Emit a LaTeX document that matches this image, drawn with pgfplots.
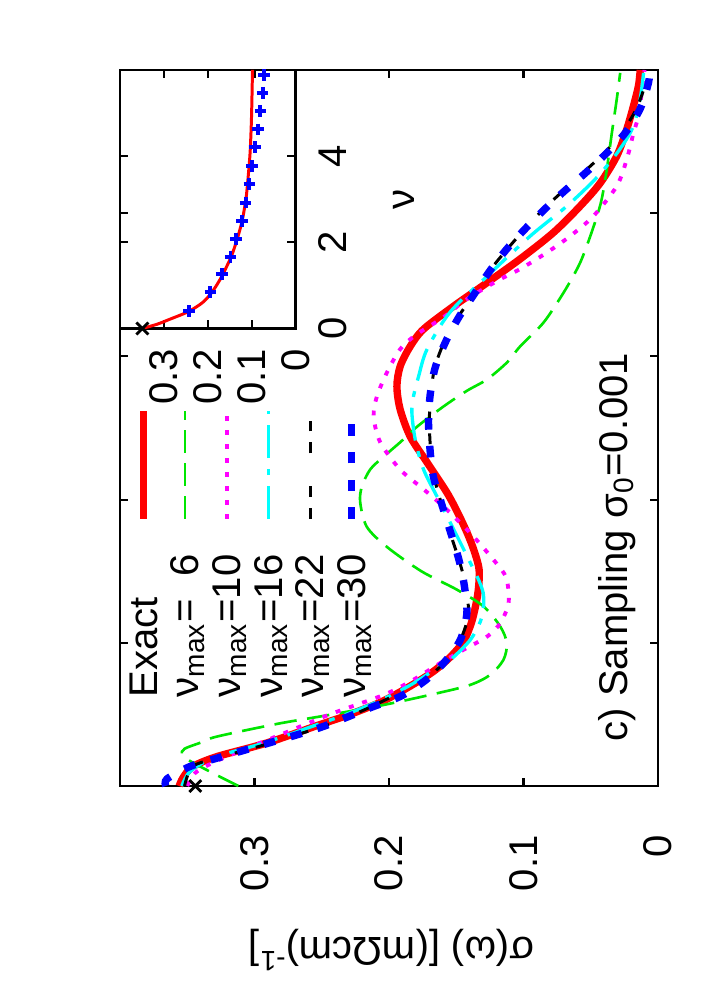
\documentclass[border=0pt]{standalone}
\usepackage{fontspec}
\setmainfont{Liberation Sans}
\usepackage{pgfplots}
\usepackage{pgfplotstable}
\pgfplotsset{compat=1.18}

\definecolor{gpred}{RGB}{255,0,0}
\definecolor{gpgreen}{RGB}{0,230,0}
\definecolor{gpmag}{RGB}{255,0,255}
\definecolor{gpcyan}{RGB}{0,255,255}
\definecolor{gpblue}{RGB}{0,0,255}
\newcommand{\gpfont}{\fontsize{11.4}{13.7}\selectfont}

\tikzset{
  lexact/.style={gpred, line width=2.1pt, line cap=butt},
  lsix/.style={gpgreen, line width=0.75pt, dash pattern=on 6.4pt off 3pt},
  lten/.style={gpmag, line width=1.1pt, dash pattern=on 1.4pt off 2.6pt},
  lsixteen/.style={gpcyan, line width=0.95pt, dash pattern=on 9.4pt off 3.1pt on 1.7pt off 3.1pt},
  ltwentytwo/.style={black, line width=0.85pt, dash pattern=on 3.1pt off 3.1pt on 3.1pt off 9.4pt},
  lthirty/.style={gpblue, line width=2.1pt, dash pattern=on 3.3pt off 4.6pt},
}

% conductivity curves: w = omega, s = sigma
\pgfplotstableread{
w s
0.00 0.356
0.06 0.353
0.135 0.346
0.205 0.328
0.30 0.291
0.42 0.254
0.50 0.229
0.595 0.204
0.71 0.182
0.80 0.167
0.90 0.1545
1.01 0.1446
1.15 0.1384
1.34 0.1340
1.51 0.1330
1.65 0.1370
1.77 0.1420
1.91 0.1490
2.05 0.1570
2.26 0.1717
2.44 0.1842
2.63 0.1917
2.79 0.1941
2.93 0.1917
3.07 0.1842
3.19 0.1743
3.35 0.1520
3.515 0.1270
3.68 0.1025
3.865 0.0777
4.05 0.0578
4.21 0.0430
4.40 0.0306
4.59 0.0231
4.75 0.0182
4.89 0.0145
5.00 0.0132
}\exact

\pgfplotstableread{
w s
0.00 0.312
0.09 0.331
0.175 0.348
0.22 0.354
0.26 0.352
0.303 0.340
0.345 0.328
0.434 0.283
0.497 0.244
0.566 0.204
0.648 0.164
0.706 0.1396
0.776 0.1248
0.881 0.1149
0.998 0.1124
1.114 0.1173
1.254 0.1297
1.371 0.1495
1.50 0.176
1.67 0.2016
1.81 0.2165
1.98 0.2214
2.09 0.2202
2.21 0.214
2.30 0.204
2.40 0.1917
2.51 0.179
2.65 0.1595
2.76 0.142
2.84 0.127
2.96 0.112
3.07 0.1025
3.235 0.0852
3.445 0.0702
3.63 0.0591
3.77 0.053
3.96 0.046
4.10 0.0418
4.31 0.038
4.56 0.0343
4.80 0.0306
4.98 0.0281
}\nusix

\pgfplotstableread{
w s
0.00 0.350
0.10 0.343
0.20 0.322
0.357 0.281
0.50 0.244
0.636 0.204
0.741 0.182
0.858 0.162
0.951 0.1446
1.044 0.127
1.137 0.1173
1.277 0.1111
1.44 0.1124
1.53 0.118
1.74 0.137
1.93 0.157
2.07 0.174
2.21 0.1917
2.40 0.2065
2.58 0.2114
2.72 0.209
2.886 0.2016
3.05 0.1917
3.15 0.180
3.27 0.160
3.40 0.142
3.53 0.119
3.61 0.1025
3.725 0.0826
3.84 0.0653
3.98 0.048
4.19 0.0306
4.38 0.0231
4.56 0.0182
4.68 0.0145
4.85 0.012
5.00 0.010
}\nuten

\pgfplotstableread{
w s
0.00 0.354
0.10 0.348
0.20 0.330
0.30 0.293
0.42 0.256
0.50 0.232
0.60 0.206
0.70 0.185
0.80 0.168
0.88 0.1545
1.02 0.1396
1.15 0.1320
1.254 0.1297
1.35 0.1300
1.44 0.1334
1.53 0.138
1.70 0.147
1.98 0.162
2.21 0.1743
2.42 0.1805
2.61 0.183
2.72 0.1818
2.86 0.178
3.05 0.1717
3.31 0.1545
3.56 0.127
3.84 0.095
4.05 0.0677
4.25 0.0454
4.45 0.0281
4.61 0.0182
4.80 0.0132
4.98 0.0107
}\nusixteen

\pgfplotstableread{
w s
0.00 0.352
0.136 0.346
0.20 0.326
0.30 0.288
0.42 0.248
0.50 0.226
0.60 0.203
0.73 0.176
0.86 0.159
1.02 0.147
1.20 0.141
1.40 0.143
1.58 0.148
1.78 0.155
1.97 0.161
2.16 0.1665
2.34 0.169
2.54 0.170
2.73 0.169
2.92 0.166
3.10 0.159
3.27 0.149
3.43 0.137
3.60 0.125
3.75 0.112
3.89 0.099
4.03 0.085
4.16 0.070
4.28 0.056
4.42 0.040
4.56 0.027
4.73 0.016
4.91 0.009
5.00 0.007
}\nutwentytwo

\pgfplotstableread{
w s
0.00 0.366
0.05 0.365
0.136 0.348
0.194 0.328
0.247 0.3085
0.303 0.2883
0.357 0.2685
0.415 0.249
0.485 0.230
0.555 0.2115
0.625 0.1917
0.73 0.174
0.858 0.1594
1.02 0.147
1.207 0.1421
1.40 0.144
1.58 0.148
1.78 0.1545
1.965 0.1607
2.16 0.167
2.34 0.1694
2.54 0.1706
2.73 0.1694
2.92 0.1657
3.10 0.158
3.27 0.1483
3.43 0.137
3.60 0.1248
3.75 0.1124
3.89 0.0988
4.03 0.084
4.16 0.0689
4.28 0.054
4.42 0.0381
4.56 0.0244
4.73 0.0132
4.91 0.0071
5.00 0.006
}\nuthirty

% inset: sigma against nu
\pgfplotstableread{
n s
0 0.349
0.1 0.315
0.2 0.290
0.39 0.2445
0.6 0.212
0.82 0.192
1.05 0.177
1.25 0.166
1.68 0.146
2.14 0.131
2.53 0.121
3.0 0.113
3.39 0.109
4.0 0.104
4.4 0.102
5.0 0.100
6.0 0.098
}\insetexact

\pgfplotstableread{
n s
0.41 0.243
0.84 0.194
1.26 0.168
1.66 0.148
2.08 0.135
2.49 0.122
2.92 0.1135
3.35 0.105
3.77 0.099
4.21 0.092
4.62 0.086
5.05 0.080
5.47 0.075
5.88 0.072
}\insetsamp

\begin{document}
\begin{tikzpicture}
\useasboundingbox (0,0) rectangle (70mm,100mm);
\begin{axis}[
  name=main,
  at={(12mm,21.4mm)}, anchor=south west,
  scale only axis, width=53.8mm, height=71.6mm,
  x dir=reverse,
  xmin=0, xmax=0.4, ymin=0, ymax=5,
  xtick={0,0.1,0.2,0.3}, ytick={1,2,3,4},
  yticklabel=\empty,
  tick align=inside, major tick length=0.8mm,
  axis line style={line width=0.6pt},
  every tick/.style={black, line width=0.6pt},
  xticklabel style={font=\gpfont, anchor=east, yshift=-2.2mm, rotate=90},
  xticklabel shift=1.5mm,
  /pgf/number format/assume math mode=true,
  clip=false,
]
\addplot[lexact, smooth] table[x=s, y=w] {\exact};
\addplot[lsix, smooth] table[x=s, y=w] {\nusix};
\addplot[lten, smooth] table[x=s, y=w] {\nuten};
\addplot[lsixteen, smooth] table[x=s, y=w] {\nusixteen};
\addplot[ltwentytwo, smooth] table[x=s, y=w] {\nutwentytwo};
\addplot[lthirty, smooth] table[x=s, y=w] {\nuthirty};
\addplot[black, only marks, mark=x, mark size=2.4pt, line width=0.8pt] coordinates {(0.344,0)};
\end{axis}

\begin{axis}[
  name=inset,
  at={(12mm,67.15mm)}, anchor=south west,
  scale only axis, width=17.55mm, height=25.85mm,
  x dir=reverse,
  xmin=0, xmax=0.4, ymin=0, ymax=6,
  xtick={0,0.1,0.2,0.3}, ytick={0,2,4},
  tick align=inside, major tick length=0.8mm,
  axis line style={line width=0.6pt},
  every tick/.style={black, line width=0.6pt},
  xticklabel style={rotate=90, anchor=east, font=\gpfont},
  xticklabel shift=0.8mm,
  yticklabel pos=right,
  yticklabel style={rotate=90, anchor=north, font=\gpfont},
  yticklabel shift=1.1mm,
  /pgf/number format/assume math mode=true,
  clip=false,
]
\addplot[gpred, line width=0.85pt, smooth] table[x=s, y=n] {\insetexact};
\addplot[gpblue, only marks, mark=+, mark size=1.65pt, line width=1.1pt] table[x=s, y=n] {\insetsamp};
\addplot[black, only marks, mark=x, mark size=2.4pt, line width=0.8pt] coordinates {(0.349,0)};
\end{axis}

% key, set upright like the rest of the turned figure
\draw[lexact]     (14.33mm,48.1mm) -- ++(0,10.8mm);
\draw[lsix]       (18.50mm,48.1mm) -- ++(0,10.8mm);
\draw[lten]       (22.67mm,48.1mm) -- ++(0,10.8mm);
\draw[lsixteen]   (26.83mm,48.1mm) -- ++(0,10.8mm);
\draw[ltwentytwo] (31.00mm,48.1mm) -- ++(0,10.8mm);
\draw[lthirty]    (35.17mm,48.1mm) -- ++(0,10.8mm);
\begin{scope}[every node/.style={rotate=90, anchor=base west, inner sep=0pt, font=\gpfont}]
\node at (15.70mm,30.2mm) {Exact};
\node at (19.87mm,30.2mm) {ν\textsubscript{max}=\phantom{1}6};
\node at (24.03mm,30.2mm) {ν\textsubscript{max}=10};
\node at (28.20mm,30.2mm) {ν\textsubscript{max}=16};
\node at (32.37mm,30.2mm) {ν\textsubscript{max}=22};
\node at (36.53mm,30.2mm) {ν\textsubscript{max}=30};
\end{scope}

\node[rotate=90, font=\gpfont] at (40.4mm,80.0mm) {ν};
\node[rotate=90, font=\gpfont] at (61.7mm,45.3mm) {c) Sampling σ\textsubscript{0}=0.001};
\node[rotate=180, font=\gpfont] at (39.1mm,5.0mm) {σ(ω) [(mΩcm)\textsuperscript{-1}]};
\end{tikzpicture}
\end{document}
